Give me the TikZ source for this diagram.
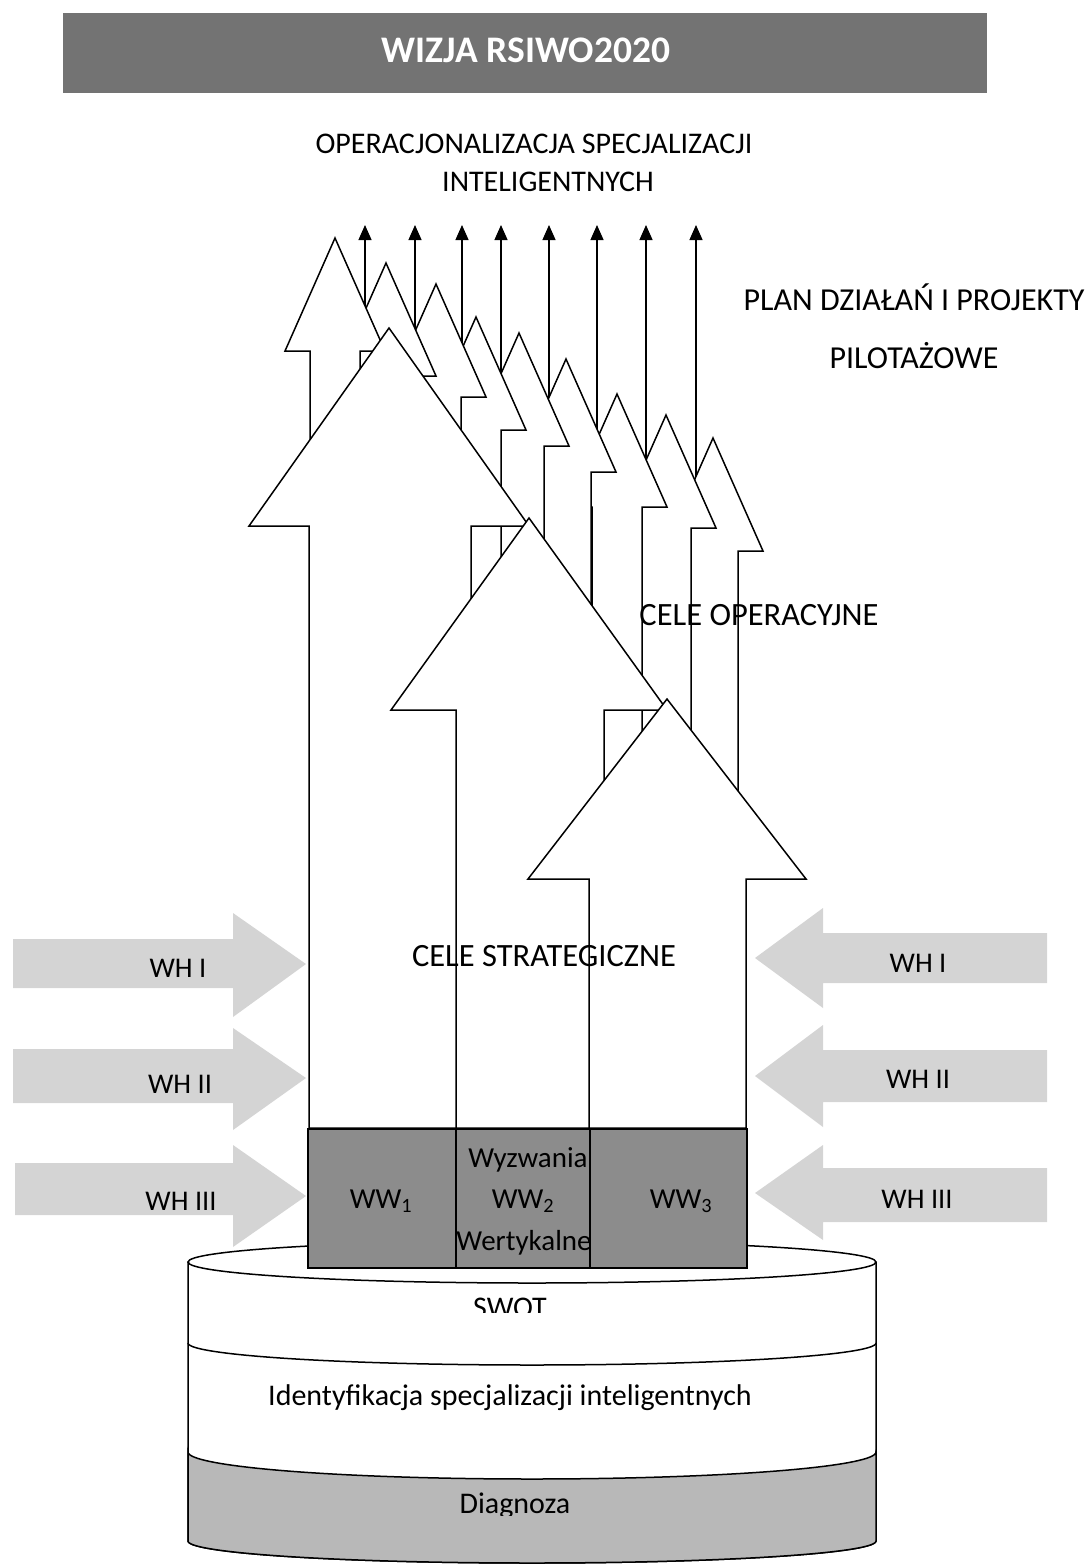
\documentclass[tikz,border=0pt]{standalone}
\usepackage{fontspec}
\setmainfont{Carlito}
\usetikzlibrary{arrows.meta}
\newcommand\smarr[2]{\path[outl] (#1,#2) -- ({#1+50},{#2+113}) -- ({#1+25},{#2+113}) -- ({#1+25},1128) -- ({#1-25},1128) -- ({#1-25},{#2+113}) -- ({#1-50},{#2+113}) -- cycle;}
\newcommand\bgarr[8]{\path[outl] (#1,#2) -- (#4,#5) -- (#7,#5) -- (#7,#8) -- (#6,#8) -- (#6,#5) -- (#3,#5) -- cycle;}
\begin{document}
\begin{tikzpicture}[x=1pt,y=-1pt,
  outl/.style={draw=black,line width=1.5pt,fill=white,line join=miter,miter limit=10},
  thinarr/.style={line width=1.3pt,-{Triangle[length=15pt,width=13pt]}},
  whfill/.style={fill=black!17,draw=none},
  txt/.style={font=\fontsize{30}{36}\selectfont,inner sep=0pt,anchor=base},
  bigtxt/.style={font=\fontsize{32.5}{38}\selectfont,inner sep=0pt,anchor=base},
  whtxt/.style={font=\fontsize{28.5}{32}\selectfont,inner sep=0pt,anchor=base},
  wwtxt/.style={font=\fontsize{29}{34}\selectfont,inner sep=0pt,anchor=base},
  cell/.style={draw=black,line width=1.5pt,fill=black!45}
]
\useasboundingbox (0,0) rectangle (1089,1564);

% title bar
\fill[black!55] (63,13) rectangle (987,93);
\node[inner sep=0pt,anchor=base,text=white,font=\fontsize{37.5}{40}\selectfont\bfseries] (title) at (526,62) {WIZJA RSIWO2020};

\node[txt] (op1) at (534,153) {OPERACJONALIZACJA SPECJALIZACJI};
\node[txt] (op2) at (548,191) {INTELIGENTNYCH};
\node[bigtxt,font=\fontsize{32}{38}\selectfont] (plan1) at (914,310) {PLAN DZIAŁAŃ I PROJEKTY};
\node[bigtxt,font=\fontsize{32}{38}\selectfont] (plan2) at (914,368) {PILOTAŻOWE};

% thin arrows
\foreach \i/\xx in {1/365,2/415,3/462,4/501,5/549,6/597,7/646,8/696}{
  \coordinate (tb\i) at (\xx,800);
  \coordinate (tt\i) at (\xx,225);
  \draw[thinarr] (tb\i) -- (tt\i);
}

% small arrows (back to front)
\smarr{713}{438}
\smarr{666}{415}
\smarr{617}{394}
\smarr{566}{359}
\smarr{519}{333}
\smarr{476}{317}
\smarr{436}{284}
\smarr{386}{263}
\smarr{335}{238}

% big arrows
\bgarr{389}{328}{249}{529}{526}{309}{471}{1128}
\bgarr{529}{518}{391}{667}{710}{456}{604}{1128}
\bgarr{667}{699}{528}{806}{879}{589}{746}{1128}

\node[bigtxt] (celeop) at (759,625) {CELE OPERACYJNE};
\node[bigtxt] (celest) at (544,966) {CELE STRATEGICZNE};

% left WH arrows
\path[whfill] (13,939) -- (233,939) -- (233,913) -- (306,964) -- (233,1017) -- (233,988) -- (13,988) -- cycle;
\path[whfill] (13,1049) -- (233,1049) -- (233,1028) -- (306,1078) -- (233,1130) -- (233,1103) -- (13,1103) -- cycle;
\path[whfill] (15,1163) -- (233,1163) -- (233,1145) -- (306,1196) -- (233,1247) -- (233,1215) -- (15,1215) -- cycle;
\node[whtxt] (whl1) at (178,977) {WH I};
\node[whtxt] (whl2) at (180,1093) {WH II};
\node[whtxt] (whl3) at (181,1210) {WH III};

% right WH arrows
\path[whfill] (1047,933) -- (823,933) -- (823,908) -- (755,958) -- (823,1008) -- (823,983) -- (1047,983) -- cycle;
\path[whfill] (1047,1050) -- (823,1050) -- (823,1025) -- (755,1076) -- (823,1127) -- (823,1102) -- (1047,1102) -- cycle;
\path[whfill] (1047,1168) -- (823,1168) -- (823,1145) -- (755,1193) -- (823,1240) -- (823,1222) -- (1047,1222) -- cycle;
\node[whtxt] (whr1) at (918,972) {WH I};
\node[whtxt] (whr2) at (918,1088) {WH II};
\node[whtxt] (whr3) at (917,1208) {WH III};

% cylinder
\path[fill=white,draw=black,line width=1.5pt] (188,1262) -- (188,1541)
  -- plot[domain=180:0,samples=80] ({532+344*cos(\x)},{1541+22*sin(\x)})
  -- (876,1262);
\path[fill=black!28,draw=black,line width=1.5pt] (188,1452)
  -- plot[domain=180:0,samples=80] ({532+344*cos(\x)},{1452+27*sin(\x)})
  -- (876,1541)
  -- plot[domain=0:180,samples=80] ({532+344*cos(\x)},{1541+22*sin(\x)})
  -- cycle;
\draw[line width=1.5pt] plot[domain=180:0,samples=80] ({532+344*cos(\x)},{1343+22*sin(\x)});
\draw[fill=white,line width=1.5pt] (532,1262) ellipse [x radius=344, y radius=21];

\begin{scope}
  \clip (400,1285) rectangle (650,1312);
  \node[txt] (swot) at (510,1317) {SWOT};
\end{scope}
\node[txt] (ident) at (510,1405) {Identyfikacja specjalizacji inteligentnych};
\begin{scope}
  \clip (400,1485) rectangle (650,1515);
  \node[txt] (diag) at (515,1513) {Diagnoza};
\end{scope}

% WW box
\path[cell] (308,1129) rectangle (456,1268);
\path[cell] (456,1129) rectangle (590,1268);
\path[cell] (590,1129) rectangle (747,1268);
\node[wwtxt] (ww1) at (381,1208) {WW\textsubscript{1}};
\node[wwtxt] (ww2) at (523,1208) {WW\textsubscript{2}};
\node[wwtxt] (wyz) at (528,1167) {Wyzwania};
\node[wwtxt] (wer) at (524,1250) {Wertykalne};
\node[wwtxt] (ww3) at (681,1208) {WW\textsubscript{3}};
\end{tikzpicture}
\end{document}
